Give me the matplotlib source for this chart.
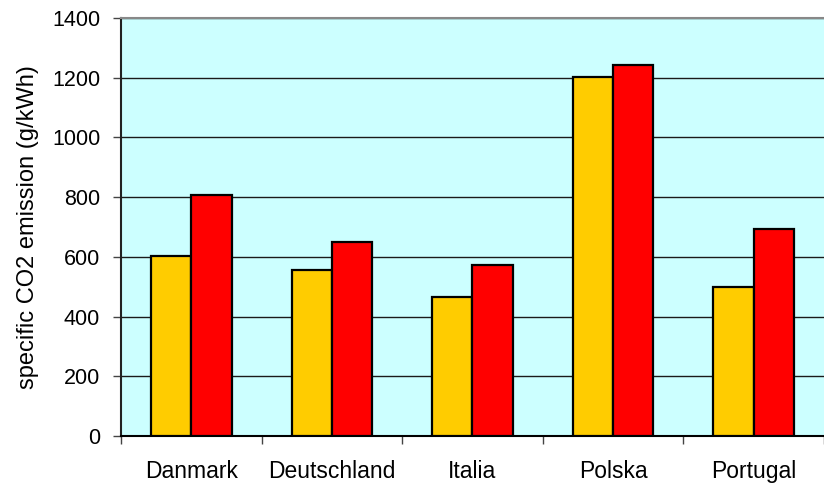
import numpy as np
import matplotlib
matplotlib.use("Agg")
import matplotlib.pyplot as plt

countries = ["Danmark", "Deutschland", "Italia", "Polska", "Portugal"]
serie_amarela = [604, 555, 466, 1203, 498]
serie_vermelha = [807, 650, 573, 1243, 693]
y_ticks = [0, 200, 400, 600, 800, 1000, 1200, 1400]

plt.rcParams['font.family'] = ['Liberation Sans', 'DejaVu Sans']

fig = plt.figure(figsize=(8.24, 4.83), dpi=100)
ax = fig.add_axes([0.1468, 0.0973, 0.8532, 0.8654])
ax.set_facecolor('#CCFFFF')

x = np.arange(len(countries))
w = 0.287
ax.bar(x - w / 2, serie_amarela, w, color='#FFCC00', edgecolor='black', linewidth=1.6, zorder=3)
ax.bar(x + w / 2, serie_vermelha, w, color='#FF0000', edgecolor='black', linewidth=1.6, zorder=3)

ax.set_ylim(0, 1400)
ax.set_xlim(-0.5, 4.416)
ax.set_yticks(y_ticks)
ax.yaxis.grid(True, color='#1a1a1a', linewidth=1.0, zorder=1)
ax.set_axisbelow(True)

ax.set_xticks(x)
ax.set_xticklabels(countries, fontsize=16.5)
ax.set_xticks(np.arange(-0.5, 5, 1), minor=True)
ax.tick_params(axis='x', which='major', length=0, pad=17)
ax.tick_params(axis='x', which='minor', length=6, width=1, color='#444444')
ax.tick_params(axis='y', length=6, width=1, pad=9, labelsize=15.5, color='#444444')

ax.spines['right'].set_visible(False)
ax.spines['top'].set_color('#888888')
ax.spines['top'].set_linewidth(1.5)
ax.spines['left'].set_linewidth(1.5)
ax.spines['bottom'].set_linewidth(1.5)
ax.spines['left'].set_color('#222222')

ax.set_ylabel("specific CO2 emission (g/kWh)", fontsize=17, labelpad=9)

plt.savefig('out.png', dpi=100)
plt.close()
